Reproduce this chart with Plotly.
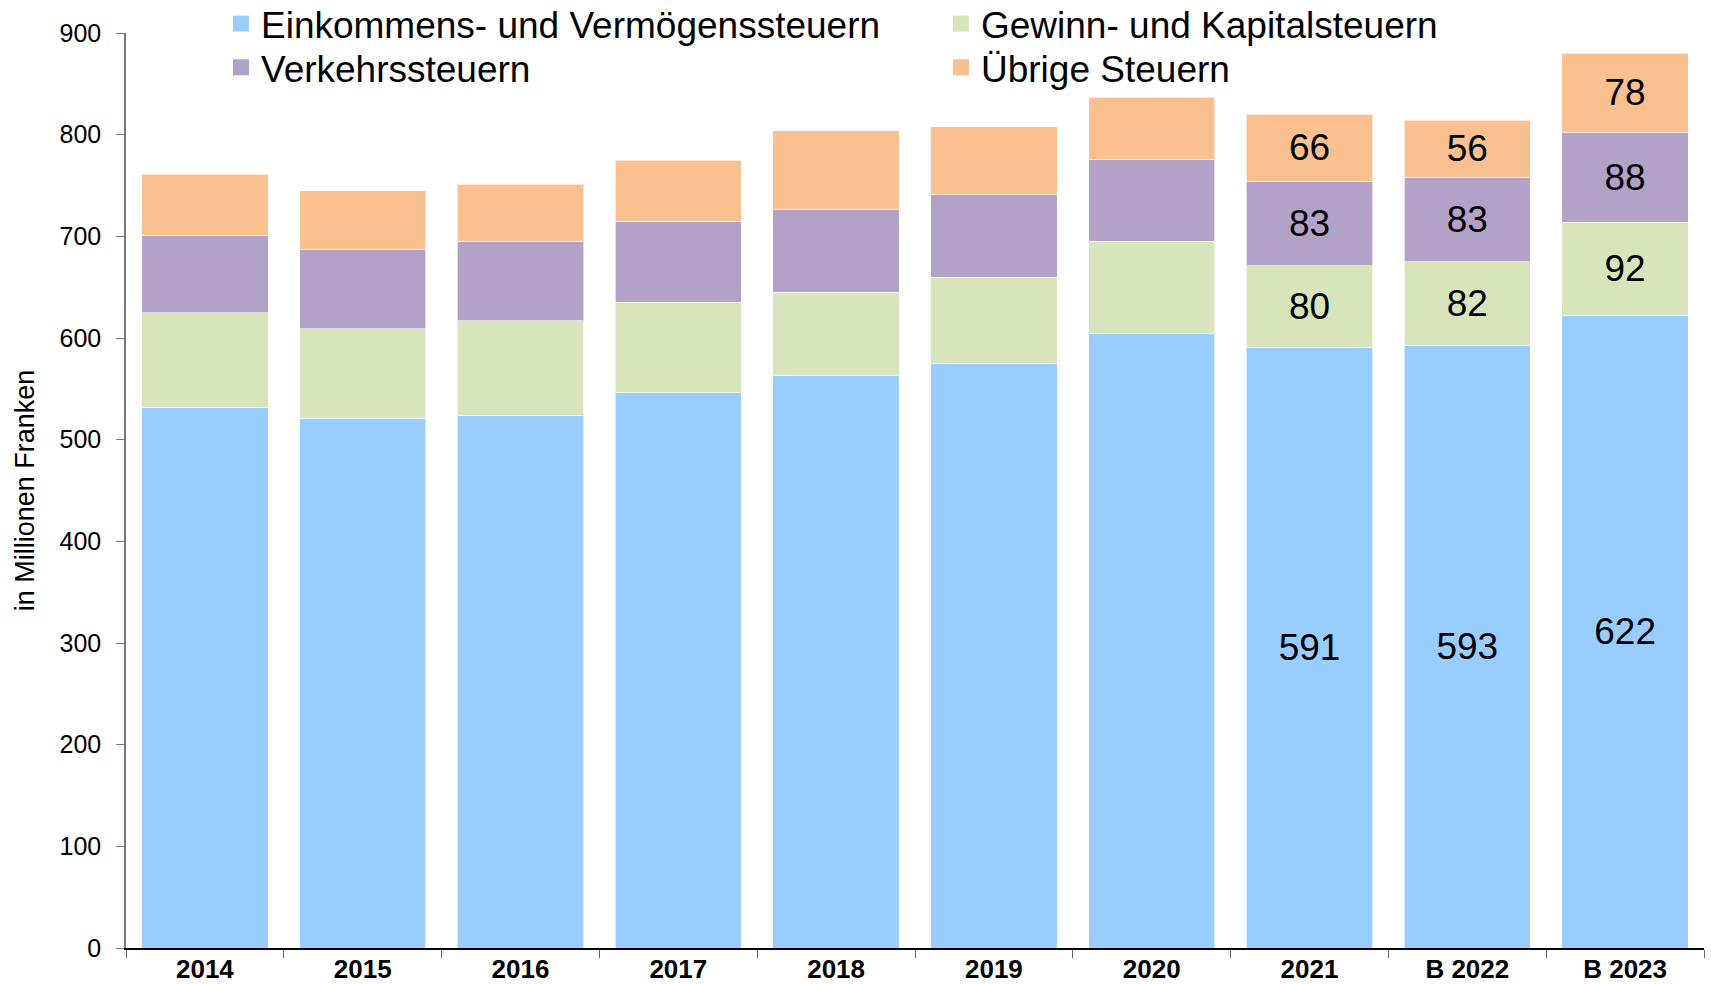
import plotly.graph_objects as go

categories = ["2014", "2015", "2016", "2017", "2018", "2019", "2020", "2021", "B 2022", "B 2023"]
einkommen = [532, 521, 524, 546, 563, 575, 604, 591, 593, 622]
gewinn = [93, 88, 93, 89, 82, 85, 91, 80, 82, 92]
verkehr = [76, 78, 78, 80, 81, 81, 81, 83, 83, 88]
uebrige = [60, 58, 56, 60, 78, 67, 61, 66, 56, 78]
labelled = [False] * 7 + [True] * 3

series = [
    ("Einkommens- und Vermögenssteuern", einkommen, "#99CCFF", "legend"),
    ("Gewinn- und Kapitalsteuern", gewinn, "#D8E4BC", "legend"),
    ("Verkehrssteuern", verkehr, "#B3A2C7", "legend2"),
    ("Übrige Steuern", uebrige, "#FAC090", "legend2"),
]

FONT = "Arial, Liberation Sans, sans-serif"

fig = go.Figure()
for name, vals, col, leg in series:
    fig.add_trace(go.Bar(
        name=name, x=categories, y=vals, legendgroup=name, showlegend=False,
        marker=dict(color=col, line=dict(color="rgba(255,255,255,0.6)", width=1)),
        text=[str(v) if show else "" for v, show in zip(vals, labelled)],
        textposition="inside", insidetextanchor="middle",
        textfont=dict(family=FONT, size=37, color="black"),
        hoverinfo="x+y+name",
    ))
# legend proxies (square swatches)
for name, vals, col, leg in series:
    fig.add_trace(go.Scatter(
        name=name, x=[None], y=[None], mode="markers", legendgroup=name,
        legend=leg, showlegend=True, hoverinfo="skip",
        marker=dict(symbol="square", size=16, color=col),
    ))

leg_common = dict(
    orientation="h", x=0.0602, xanchor="left", yanchor="middle",
    traceorder="normal", entrywidth=675, entrywidthmode="pixels",
    font=dict(family=FONT, size=37, color="black"),
    bgcolor="rgba(0,0,0,0)", itemclick=False, itemdoubleclick=False,
)

fig.update_layout(
    barmode="stack", bargap=0.2,
    width=1711, height=984,
    margin=dict(l=126, r=7, t=33, b=36, autoexpand=False),
    paper_bgcolor="white", plot_bgcolor="white",
    font=dict(family=FONT, color="black"),
    uniformtext=dict(minsize=30, mode="show"),
    legend=dict(y=1.0098, **leg_common),
    legend2=dict(y=0.962, **leg_common),
    xaxis=dict(
        type="category", range=[-0.5, 9.5],
        showline=True, linecolor="black", linewidth=1.5,
        ticks="outside", tickson="boundaries", ticklen=8, tickcolor="#666666",
        ticklabelstandoff=-3,
        tickfont=dict(family=FONT, size=26, color="black", weight="bold"),
        showgrid=False, fixedrange=True,
    ),
    yaxis=dict(
        range=[0, 900], dtick=100, tick0=0,
        showline=True, linecolor="#777777", linewidth=1.5,
        ticks="outside", ticklen=8, tickcolor="#777777", ticklabelstandoff=10,
        tickfont=dict(family=FONT, size=25, color="black"),
        showgrid=False, zeroline=False,
        title=dict(text="in Millionen Franken", font=dict(family=FONT, size=27, color="black"), standoff=17),
        fixedrange=True,
    ),
)

fig.write_html(
    "out.html",
    config={"displayModeBar": False},
    post_script="document.body.style.margin='0';document.body.style.overflow='hidden';",
)
